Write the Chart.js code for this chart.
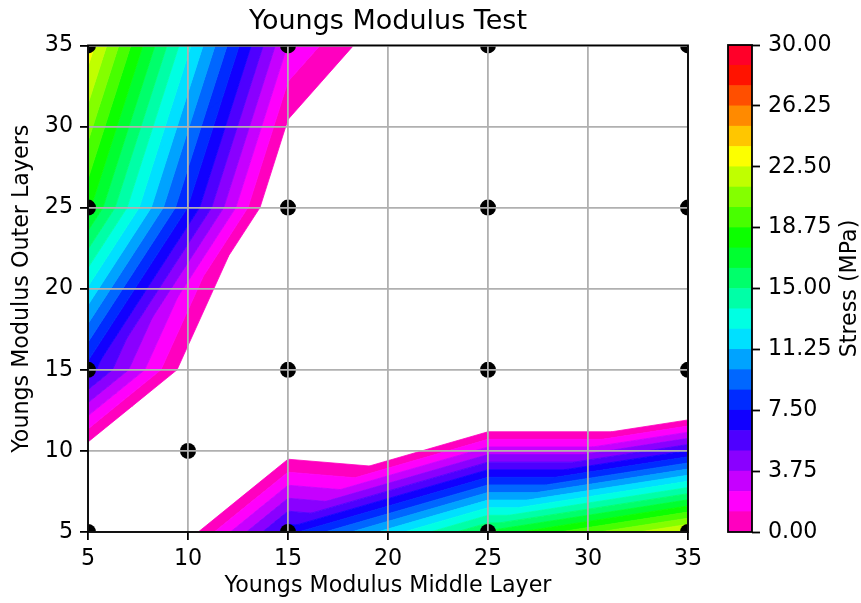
<!DOCTYPE html>
<html>
<head>
<meta charset="utf-8">
<title>Youngs Modulus Test</title>
<script src="https://cdn.jsdelivr.net/npm/chart.js@4.4.1/dist/chart.umd.min.js"></script>
<style>
  html, body { margin: 0; padding: 0; background: #fff; }
  #wrap { position: relative; width: 861px; height: 603px; }
  #wrap canvas { position: absolute; left: 0; top: 0; }
</style>
</head>
<body>
<div id="wrap">
  <canvas id="main" width="861" height="603"></canvas>
  <canvas id="bar" width="861" height="603"></canvas>
</div>
<script>
// Sample locations: modulus of the middle layer (x) and of the outer layers (y)
const middleModulus = [5, 5, 5, 5, 10, 15, 15, 15, 15, 25, 25, 25, 25, 35, 35, 35, 35];
const outerModulus  = [5, 15, 25, 35, 10, 5, 15, 25, 35, 5, 15, 25, 35, 5, 15, 25, 35];
// Stress at each sample (MPa); negative values fall below the lowest level
const stress = [-8.6, 6.9, 17.8, 23.2, -8.6, 7.0, -8.6, -2.9, 2.44, 16.5, -10.2, -9.0, -5.0, 22.8, -10.2, -9.0, -8.0];
// Triangulation of the samples (indices into the arrays above)
const triangles = [
  [0, 5, 4], [5, 6, 4], [6, 1, 4], [1, 0, 4],
  [1, 6, 7], [1, 7, 2], [2, 7, 8], [2, 8, 3],
  [5, 9, 10], [5, 10, 6], [6, 10, 11], [6, 11, 7], [7, 11, 12], [7, 12, 8],
  [9, 13, 14], [9, 14, 10], [10, 14, 15], [10, 15, 11], [11, 15, 16], [11, 16, 12]
];
// Filled contour levels
const levels = [0, 1.25, 2.5, 3.75, 5, 6.25, 7.5, 8.75, 10, 11.25, 12.5, 13.75, 15,
                16.25, 17.5, 18.75, 20, 21.25, 22.5, 23.75, 25, 26.25, 27.5, 28.75, 30];
const axisTicks = [5, 10, 15, 20, 25, 30, 35];
const colorbarTicks = [0, 3.75, 7.5, 11.25, 15, 18.75, 22.5, 26.25, 30];

// gist_rainbow colour map, used reversed (magenta at the bottom, red at the top)
const rainbowAnchors = [
  [0.000, [1.00, 0.00, 0.16]],
  [0.030, [1.00, 0.00, 0.00]],
  [0.215, [1.00, 1.00, 0.00]],
  [0.400, [0.00, 1.00, 0.00]],
  [0.586, [0.00, 1.00, 1.00]],
  [0.770, [0.00, 0.00, 1.00]],
  [0.954, [1.00, 0.00, 1.00]],
  [1.000, [1.00, 0.00, 0.75]]
];
function rainbow(s) {
  for (let i = 0; i < rainbowAnchors.length - 1; i++) {
    const [s0, c0] = rainbowAnchors[i];
    const [s1, c1] = rainbowAnchors[i + 1];
    if (s <= s1) {
      const t = (s - s0) / (s1 - s0);
      const c = c0.map((v, k) => Math.round(255 * (v + t * (c1[k] - v))));
      return `rgb(${c[0]},${c[1]},${c[2]})`;
    }
  }
  const c = rainbowAnchors[rainbowAnchors.length - 1][1];
  return `rgb(${c.map(v => Math.round(v * 255)).join(',')})`;
}
const nBands = levels.length - 1;
const bandColors = levels.slice(0, -1).map((_, i) => rainbow(1 - i / (nBands - 1)));

Chart.defaults.font.family = "'DejaVu Sans', sans-serif";
Chart.defaults.color = '#000';

// Keep the part of a polygon where sign*(v - level) >= 0
function clipPoly(poly, level, sign) {
  const out = [];
  for (let i = 0; i < poly.length; i++) {
    const a = poly[i], b = poly[(i + 1) % poly.length];
    const da = sign * (a.v - level), db = sign * (b.v - level);
    if (da >= 0) out.push(a);
    if ((da >= 0) !== (db >= 0)) {
      const t = da / (da - db);
      out.push({ x: a.x + t * (b.x - a.x), y: a.y + t * (b.y - a.y), v: a.v + t * (b.v - a.v) });
    }
  }
  return out;
}

// Linear-interpolated filled contours on the triangulation
const contourPlugin = {
  id: 'stressContours',
  beforeDatasetsDraw(chart) {
    const { ctx, chartArea, scales: { x, y } } = chart;
    ctx.save();
    ctx.beginPath();
    ctx.rect(chartArea.left, chartArea.top, chartArea.right - chartArea.left, chartArea.bottom - chartArea.top);
    ctx.clip();
    for (let b = 0; b < nBands; b++) {
      const lo = levels[b], hi = levels[b + 1];
      ctx.beginPath();
      let any = false;
      for (const tri of triangles) {
        let poly = tri.map(k => ({ x: middleModulus[k], y: outerModulus[k], v: stress[k] }));
        poly = clipPoly(poly, lo, 1);
        if (poly.length < 3) continue;
        poly = clipPoly(poly, hi, -1);
        if (poly.length < 3) continue;
        poly.forEach((p, i) => {
          const px = x.getPixelForValue(p.x), py = y.getPixelForValue(p.y);
          if (i) ctx.lineTo(px, py); else ctx.moveTo(px, py);
        });
        ctx.closePath();
        any = true;
      }
      if (!any) continue;
      ctx.fillStyle = bandColors[b];
      ctx.strokeStyle = bandColors[b];
      ctx.lineWidth = 0.8;
      ctx.lineJoin = 'round';
      ctx.fill();
      ctx.stroke();
    }
    ctx.restore();
  }
};

// Black outline around the plotting area
const framePlugin = {
  id: 'frame',
  afterDraw(chart) {
    const { ctx, chartArea } = chart;
    ctx.save();
    ctx.strokeStyle = '#000';
    ctx.lineWidth = 1.8;
    ctx.strokeRect(chartArea.left, chartArea.top, chartArea.right - chartArea.left, chartArea.bottom - chartArea.top);
    ctx.restore();
  }
};

// Colour bar caption, reading bottom to top
const colorbarLabelPlugin = {
  id: 'colorbarLabel',
  afterDraw(chart) {
    const { ctx, chartArea } = chart;
    ctx.save();
    ctx.translate(850, (chartArea.top + chartArea.bottom) / 2);
    ctx.rotate(-Math.PI / 2);
    ctx.textAlign = 'center';
    ctx.textBaseline = 'middle';
    ctx.fillStyle = '#000';
    ctx.font = "22.2px 'DejaVu Sans'";
    ctx.fillText('Stress (MPa)', 0, 0);
    ctx.restore();
  }
};

const gridStyle = { color: '#b0b0b0', lineWidth: 1.8, z: 1, tickColor: '#000', tickWidth: 1.8, tickLength: 8, drawTicks: true };

new Chart(document.getElementById('main'), {
  type: 'scatter',
  data: {
    datasets: [{
      data: middleModulus.map((x, i) => ({ x, y: outerModulus[i] })),
      backgroundColor: '#000',
      borderWidth: 0,
      pointRadius: 8,
      pointHoverRadius: 8,
      clip: 0
    }]
  },
  options: {
    responsive: false,
    animation: false,
    events: [],
    layout: { padding: { left: 0, right: 173, top: 0, bottom: 0 } },
    plugins: {
      legend: { display: false },
      tooltip: { enabled: false },
      title: {
        display: true,
        text: 'Youngs Modulus Test',
        fullSize: false,
        color: '#000',
        font: { size: 27, weight: 'normal' },
        padding: { top: 6, bottom: 7 }
      }
    },
    scales: {
      x: {
        type: 'linear',
        min: 5, max: 35,
        afterBuildTicks: s => { s.ticks = axisTicks.map(v => ({ value: v })); },
        afterFit: s => { s.height = 71; },
        grid: gridStyle,
        border: { display: false },
        ticks: { font: { size: 22.2 }, color: '#000', padding: 6, maxRotation: 0 },
        title: { display: true, text: 'Youngs Modulus Middle Layer', color: '#000', font: { size: 22.2 }, padding: { top: 0, bottom: 3 } }
      },
      y: {
        type: 'linear',
        min: 5, max: 35,
        afterBuildTicks: s => { s.ticks = axisTicks.map(v => ({ value: v })); },
        afterFit: s => { s.width = 88; },
        grid: gridStyle,
        border: { display: false },
        ticks: { font: { size: 22.2 }, color: '#000', padding: 7 },
        title: { display: true, text: 'Youngs Modulus Outer Layers', color: '#000', font: { size: 22.2 }, padding: { top: 9, bottom: 0 } }
      }
    }
  },
  plugins: [contourPlugin, framePlugin]
});

new Chart(document.getElementById('bar'), {
  type: 'bar',
  data: {
    labels: ['stress'],
    datasets: levels.slice(0, -1).map((lo, i) => ({
      data: [[lo, levels[i + 1]]],
      backgroundColor: bandColors[i],
      borderWidth: 0,
      grouped: false,
      barPercentage: 1,
      categoryPercentage: 1
    }))
  },
  options: {
    responsive: false,
    animation: false,
    events: [],
    layout: { padding: { left: 728, right: 0, top: 45, bottom: 71 } },
    plugins: { legend: { display: false }, tooltip: { enabled: false }, title: { display: false } },
    scales: {
      x: { display: false },
      y: {
        position: 'right',
        min: 0, max: 30,
        afterBuildTicks: s => { s.ticks = colorbarTicks.map(v => ({ value: v })); },
        afterFit: s => { s.width = 109; },
        grid: { drawOnChartArea: false, tickColor: '#000', tickWidth: 1.8, tickLength: 8 },
        border: { display: false },
        ticks: { font: { size: 22.2 }, color: '#000', padding: 8, callback: v => Number(v).toFixed(2) }
      }
    }
  },
  plugins: [framePlugin, colorbarLabelPlugin]
});
</script>
</body>
</html>
